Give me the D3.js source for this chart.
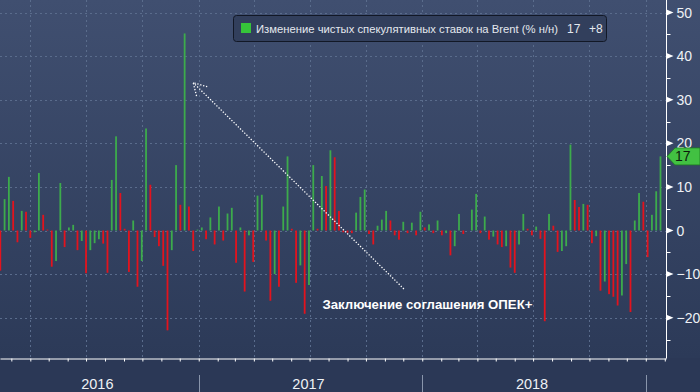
<!DOCTYPE html>
<html>
<head>
<meta charset="utf-8">
<title>Brent: спекулятивные ставки</title>
<script src="https://d3js.org/d3.v7.min.js"></script>
<style>
  body { margin: 0; background: #2b3856; }
  svg { display: block; }
</style>
</head>
<body>
<div id="chart"></div>
<script>

// Данные: недельное изменение чистых спекулятивных ставок на Brent
const firstWeek = "2016-02-12";
const weeklyChange = [
  -9.2, 7.2, 12.3, 6.8, -2.7, 4.5, 4.3, -1.7, -0.4, 13.2,
  3.6, 0.2, -8.3, -7.0, 10.9, -3.8, 0.7, 1.3, -4.5, -2.4,
  -9.8, -4.5, -2.9, -2.0, -3.0, -9.7, 11.6, 21.6, 8.6, 0.4,
  -9.5, 2.3, -12.9, -7.0, 23.4, 10.5, -1.5, -3.6, -8.1, -22.9,
  -4.5, 15.0, 5.9, 45.2, 5.5, -4.7, 0.2, 0.7, -2.0, 3.0,
  -3.2, 5.5, -2.3, 3.9, 5.2, -7.4, 0.7, -14.0, -1.1, -7.2,
  8.0, 8.2, -2.3, -16.1, -10.0, -12.9, 5.5, 17.0, 0.4, -12.0,
  -8.0, -19.1, -12.5, 15.0, 0.4, 12.5, 10.2, 18.4, 16.8, 4.5,
  -0.4, -0.5, -0.6, 4.1, 7.7, 9.4, -0.8, -3.2, 1.1, 2.5,
  4.5, 2.3, -1.1, -2.1, 2.0, -0.6, 1.8, -1.1, 4.3, 0.7,
  1.4, -0.6, 2.3, -1.1, -0.6, -5.7, -3.6, 3.8, -0.8, 0.0,
  4.8, 8.4, -0.6, 3.2, -2.1, -1.4, -3.2, -3.8, -3.6, -8.5,
  -9.7, -3.2, 3.8, 0.4, -1.1, 0.9, -1.9, -20.8, 3.8, 1.1,
  -4.9, -4.7, -3.6, 19.7, 7.0, 5.4, 6.1, 5.9, -2.9, -1.3,
  -13.8, -11.7, -14.6, -15.2, -17.2, -14.9, -7.7, -18.7, 2.3, 8.6,
  6.6, -6.1, 3.6, 9.0, 17.0
];
const yearLabels = ["2016", "2017", "2018"];
const yTicks = [-20, -10, 0, 10, 20, 30, 40, 50];
const yMinorTicks = [-25, -15, -5, 5, 15, 25, 35, 45];

const legendText = "Изменение чистых спекулятивных ставок на Brent (% н/н)";
const legendLast = "17";
const legendDelta = "+8";
const noteText = "Заключение соглашения ОПЕК+";

// размеры
const width = 700;
const height = 392;
const plot = { left: 0, right: 666, top: 0, bottom: 358 };

const narrowFont = "'Liberation Sans Narrow', 'Arial Narrow', 'Liberation Sans', sans-serif";
const colors = {
  up: "#3dab4c",
  down: "#e3131d",
  grid: "#5a6c8c",
  axis: "#ffffff",
  text: "#eef1f5"
};

// даты столбцов (по неделям)
const weekDates = weeklyChange.map((d, i) => d3.utcDay.offset(new Date(firstWeek + "T00:00:00Z"), 7 * i));

const x = d3.scaleUtc()
  .domain([new Date("2016-02-11T12:00:00Z"), new Date("2019-02-03T00:00:00Z")])
  .range([plot.left, plot.right]);

const y = d3.scaleLinear()
  .domain([-29.24, 52.87])
  .range([plot.bottom, plot.top]);

const svg = d3.select("#chart")
  .append("svg")
  .attr("width", width)
  .attr("height", height);

// фон
const defs = svg.append("defs");
const grad = defs.append("linearGradient")
  .attr("id", "bg")
  .attr("x1", 0).attr("y1", 0).attr("x2", 0).attr("y2", 1);
grad.append("stop").attr("offset", "0%").attr("stop-color", "#404f70");
grad.append("stop").attr("offset", "100%").attr("stop-color", "#2c3a58");

svg.append("rect")
  .attr("width", width)
  .attr("height", plot.bottom)
  .attr("fill", "url(#bg)");
svg.append("rect")
  .attr("y", plot.bottom)
  .attr("width", width)
  .attr("height", height - plot.bottom)
  .attr("fill", "#2b3856");

// сетка
const quarters = d3.utcMonth.every(3).range(x.domain()[0], x.domain()[1]);
svg.append("g")
  .selectAll("line")
  .data(quarters)
  .join("line")
  .attr("x1", d => Math.round(x(d)) + 0.5)
  .attr("x2", d => Math.round(x(d)) + 0.5)
  .attr("y1", plot.top)
  .attr("y2", plot.bottom)
  .attr("stroke", colors.grid)
  .attr("stroke-dasharray", "2,3");

svg.append("g")
  .selectAll("line")
  .data(yTicks)
  .join("line")
  .attr("x1", plot.left)
  .attr("x2", plot.right)
  .attr("y1", d => Math.round(y(d)) + 0.5)
  .attr("y2", d => Math.round(y(d)) + 0.5)
  .attr("stroke", colors.grid)
  .attr("stroke-dasharray", "2,3");

// столбцы: зелёный — рост к прошлой неделе, красный — снижение
svg.append("g")
  .selectAll("rect")
  .data(weeklyChange)
  .join("rect")
  .attr("x", (d, i) => x(weekDates[i]) - 0.9)
  .attr("width", 1.8)
  .attr("y", d => y(Math.max(0, d)))
  .attr("height", d => Math.abs(y(d) - y(0)))
  .attr("fill", (d, i) => (i > 0 && d >= weeklyChange[i - 1]) ? colors.up : colors.down);

// ось X (месяцы)
const xAxis = d3.axisBottom(x)
  .ticks(d3.utcMonth.every(1))
  .tickSize(3)
  .tickSizeOuter(0)
  .tickFormat("");
const gx = svg.append("g")
  .attr("transform", `translate(0, ${plot.bottom + 0.5})`)
  .call(xAxis);
gx.selectAll("path, line").attr("stroke", colors.axis);

// разделители годов и подписи
const yearStarts = d3.utcYear.range(new Date("2016-01-01T00:00:00Z"), new Date("2019-01-02T00:00:00Z"));
svg.append("g")
  .selectAll("line")
  .data(yearStarts.filter(d => x(d) > 0))
  .join("line")
  .attr("x1", d => Math.round(x(d)) + 0.5)
  .attr("x2", d => Math.round(x(d)) + 0.5)
  .attr("y1", 375)
  .attr("y2", height)
  .attr("stroke", "#8995ab");

svg.append("g")
  .selectAll("text")
  .data(yearLabels)
  .join("text")
  .attr("x", (d, i) => {
    const a = Math.max(plot.left, x(yearStarts[i]));
    const b = Math.min(plot.right, x(yearStarts[i + 1]));
    return (a + b) / 2 - 2;
  })
  .attr("y", 389)
  .attr("text-anchor", "middle")
  .style("font-family", narrowFont)
  .style("font-size", "14.5px")
  .style("fill", colors.text)
  .text(d => d);

// ось Y справа
const gy = svg.append("g")
  .attr("transform", `translate(${plot.right + 0.5}, 0)`);
gy.append("line")
  .attr("y1", plot.top)
  .attr("y2", plot.bottom + 0.5)
  .attr("stroke", colors.axis);
gy.selectAll(".minor")
  .data(yMinorTicks)
  .join("line")
  .attr("class", "minor")
  .attr("x1", 0)
  .attr("x2", 4)
  .attr("y1", d => Math.round(y(d)) + 0.5)
  .attr("y2", d => Math.round(y(d)) + 0.5)
  .attr("stroke", colors.axis);
gy.selectAll(".tri")
  .data(yTicks)
  .join("path")
  .attr("class", "tri")
  .attr("d", d => {
    const ty = y(d);
    return `M0,${ty - 3}L7,${ty}L0,${ty + 3}Z`;
  })
  .attr("fill", colors.axis);
gy.selectAll(".lbl")
  .data(yTicks)
  .join("text")
  .attr("class", "lbl")
  .attr("x", 10)
  .attr("y", d => y(d))
  .attr("dy", "0.36em")
  .style("font-family", narrowFont)
  .style("font-size", "14px")
  .style("fill", colors.text)
  .text(d => d < 0 ? "\u2212" + Math.abs(d) : d);

// метка последнего значения (перекрывает подпись 20, как в оригинале)
const lastValue = weeklyChange[weeklyChange.length - 1];
const tagY = y(lastValue);
svg.append("path")
  .attr("d", `M${plot.right + 1},${tagY}L${plot.right + 9},${tagY - 8.5}L${width},${tagY - 8.5}L${width},${tagY + 8.5}L${plot.right + 9},${tagY + 8.5}Z`)
  .attr("fill", "#42c142")
  .attr("stroke", "#1f7a24")
  .attr("stroke-width", 0.8);
svg.append("text")
  .attr("x", plot.right + 9)
  .attr("y", tagY)
  .attr("dy", "0.36em")
  .style("font-family", narrowFont)
  .style("font-size", "14px")
  .style("fill", "#0b1a0b")
  .text(lastValue.toFixed(0));

// легенда
const legend = svg.append("g");
legend.append("rect")
  .attr("x", 233.5)
  .attr("y", 15.5)
  .attr("width", 373)
  .attr("height", 26)
  .attr("rx", 3)
  .attr("fill", "#323f5c")
  .attr("stroke", "#121826");
legend.append("rect")
  .attr("x", 241)
  .attr("y", 23)
  .attr("width", 10)
  .attr("height", 10)
  .attr("fill", "#36c43a");
legend.append("text")
  .attr("x", 256)
  .attr("y", 32.5)
  .attr("textLength", 302)
  .attr("lengthAdjust", "spacingAndGlyphs")
  .style("font-family", "'Liberation Sans', sans-serif")
  .style("font-size", "11.5px")
  .style("fill", "#e4e8ee")
  .text(legendText);
legend.append("text")
  .attr("x", 567)
  .attr("y", 32.5)
  .style("font-family", "'Liberation Sans', sans-serif")
  .style("font-size", "12px")
  .style("fill", "#e4e8ee")
  .text(legendLast);
legend.append("text")
  .attr("x", 589)
  .attr("y", 32.5)
  .style("font-family", "'Liberation Sans', sans-serif")
  .style("font-size", "12px")
  .style("fill", "#e4e8ee")
  .text(legendDelta);

// аннотация ОПЕК+
const arrowFrom = [x(new Date("2017-12-02T00:00:00Z")), y(-13.4)];
const arrowTo = [x(new Date("2016-12-23T00:00:00Z")), y(33.9)];
const note = svg.append("g")
  .attr("stroke", "#ffffff")
  .attr("stroke-width", 1.3)
  .attr("stroke-dasharray", "1.3,1.7")
  .attr("fill", "none");
note.append("line")
  .attr("x1", arrowFrom[0]).attr("y1", arrowFrom[1])
  .attr("x2", arrowTo[0]).attr("y2", arrowTo[1]);
note.append("path")
  .attr("d", `M${arrowTo[0] + 14},${arrowTo[1] + 4}L${arrowTo[0]},${arrowTo[1]}L${arrowTo[0] + 3.5},${arrowTo[1] + 14}`);

svg.append("text")
  .attr("x", x(new Date("2017-07-22T00:00:00Z")))
  .attr("y", y(-17.9))
  .attr("textLength", 210)
  .attr("lengthAdjust", "spacingAndGlyphs")
  .style("font-family", "'Liberation Sans', sans-serif")
  .style("font-weight", "bold")
  .style("font-size", "13px")
  .style("fill", "#ffffff")
  .text(noteText);

</script>
</body>
</html>
